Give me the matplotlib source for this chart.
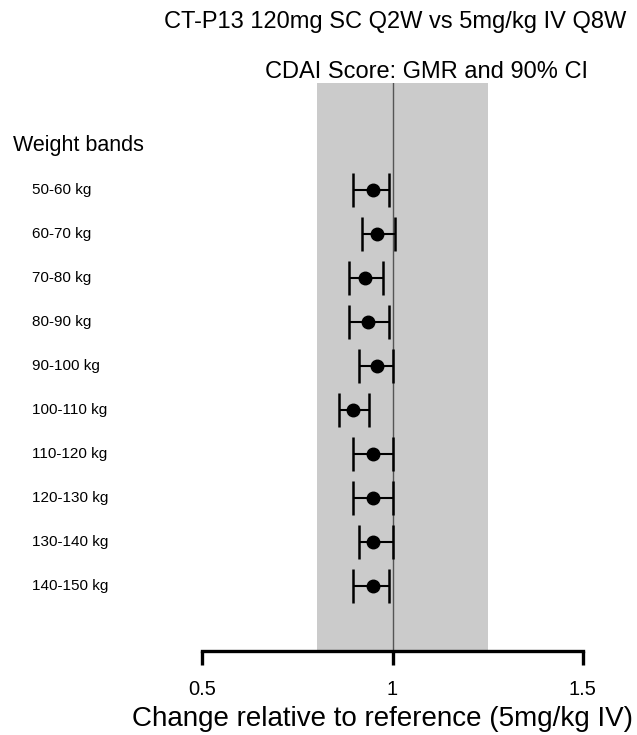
import numpy as np
import matplotlib
matplotlib.use("Agg")
import matplotlib.pyplot as plt
import matplotlib.transforms as mtransforms

plt.rcParams['font.family'] = ['Liberation Sans', 'DejaVu Sans']

# GMR and 90% CI per weight band
bands = ['50-60 kg', '60-70 kg', '70-80 kg', '80-90 kg', '90-100 kg',
         '100-110 kg', '110-120 kg', '120-130 kg', '130-140 kg', '140-150 kg']
gmr = [0.949, 0.958, 0.928, 0.936, 0.958, 0.895, 0.949, 0.949, 0.949, 0.949]
lower = [0.897, 0.919, 0.886, 0.886, 0.913, 0.860, 0.897, 0.897, 0.913, 0.897]
upper = [0.992, 1.007, 0.976, 0.992, 1.000, 0.939, 1.000, 1.000, 1.000, 0.992]

# equivalence region
band_lo, band_hi = 0.8, 1.25
xticks = [0.5, 1, 1.5]
xticklabels = ['0.5', '1', '1.5']

gmr = np.array(gmr)
lower = np.array(lower)
upper = np.array(upper)
ypos = np.arange(1, len(bands) + 1)

fig = plt.figure(figsize=(6.37, 7.35), dpi=100)
ax = fig.add_axes([202.5 / 637, 1 - 651 / 735, 380 / 637, (651 - 83) / 735])

ax.axvspan(band_lo, band_hi, color='#cbcbcb', lw=0, zorder=0)
ax.axvline(1, color='#555555', lw=1.0, zorder=1)

ax.errorbar(gmr, ypos, xerr=[gmr - lower, upper - gmr], fmt='o', color='black',
            ms=9, capsize=12.5, elinewidth=1.5, capthick=1.8, zorder=3)

ax.set_xlim(0.5, 1.5)
ax.set_ylim(10 + 65 / 44, 1 - 107 / 44)

for s in ['top', 'right', 'left']:
    ax.spines[s].set_visible(False)
ax.spines['bottom'].set_bounds(0.5, 1.5)
ax.spines['bottom'].set_linewidth(2.4)
ax.spines['bottom'].set_capstyle('projecting')
ax.set_yticks([])
ax.set_xticks(xticks, labels=xticklabels)
ax.tick_params(axis='x', direction='out', length=10, width=2.4, pad=11,
               labelsize=14.5)

# row labels on the left
trans = mtransforms.blended_transform_factory(fig.transFigure, ax.transData)
for y, lab in zip(ypos, bands):
    ax.text(32 / 637, y, lab, transform=trans, ha='left', va='center',
            fontsize=11)
ax.text(13 / 637, 0, 'Weight bands', transform=trans, ha='left', va='center',
        fontsize=15.5)

fig.text(395 / 637, 1 - 28 / 735, 'CT-P13 120mg SC Q2W vs 5mg/kg IV Q8W',
         ha='center', va='baseline', fontsize=17)
fig.text(427 / 637, 1 - 78 / 735, 'CDAI Score: GMR and 90% CI',
         ha='center', va='baseline', fontsize=17)
fig.text(382 / 637, 1 - 726 / 735, 'Change relative to reference (5mg/kg IV)',
         ha='center', va='baseline', fontsize=20)

fig.savefig('out.png', dpi=100)
